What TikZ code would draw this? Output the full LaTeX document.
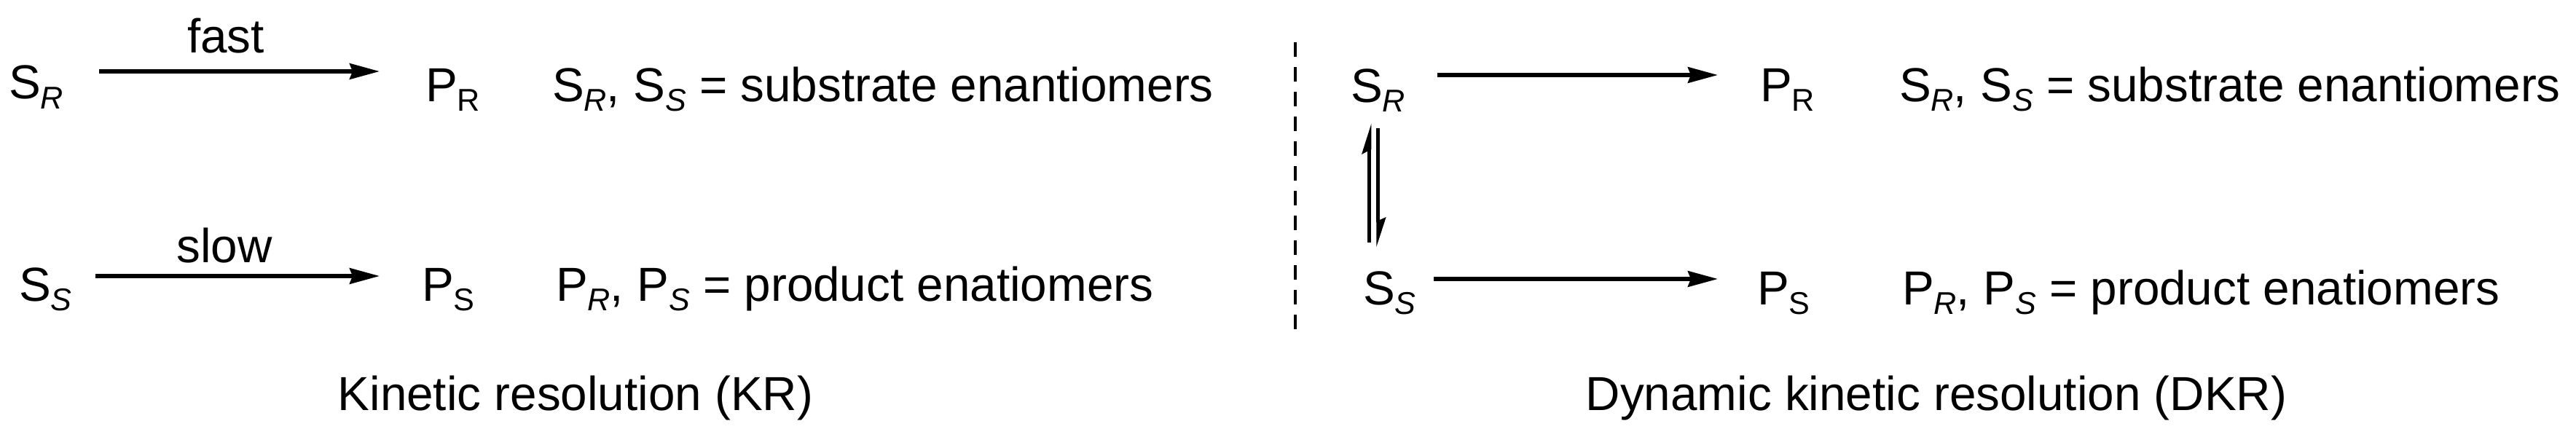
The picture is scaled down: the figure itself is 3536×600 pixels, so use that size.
\documentclass[tikz,border=0pt]{standalone}
\usepackage{fontspec}
\setmainfont{Liberation Sans}
\usetikzlibrary{arrows.meta}
\newcommand{\chemsub}[1]{\raisebox{-3.25pt}{\fontsize{10.8pt}{12pt}\selectfont #1}}
\tikzset{
  lbl/.style={inner sep=0pt, outer sep=0pt, anchor=base west, font=\fontsize{16.4pt}{19pt}\selectfont},
  captxt/.style={inner sep=0pt, outer sep=0pt, anchor=base, font=\fontsize{16.4pt}{19pt}\selectfont},
  rxn/.style={line width=1.35pt, -{Stealth[length=10.25pt, width=5.4pt, inset=1pt]}},
  harp/.style={line width=1.25pt},
  sep/.style={line width=1.2pt, dash pattern=on 5pt off 3.5pt}
}
\begin{document}
\begin{tikzpicture}[x=0.25pt, y=-0.25pt]
\useasboundingbox (0,0) rectangle (3536,600);
% ---------- Kinetic resolution ----------
\node[lbl] (SR1) at (12,136) {S\chemsub{\textit{R}}};
\node[lbl] (PR1) at (584,139) {P\chemsub{R}};
\node[lbl] (L1)  at (758,139) {S\chemsub{\textit{R}}, S\chemsub{\textit{S}} = substrate enantiomers};
\node[lbl] (SS1) at (26,413) {S\chemsub{\textit{S}}};
\node[lbl] (PS1) at (579,413) {P\chemsub{S}};
\node[lbl] (L2)  at (763,413) {P\chemsub{\textit{R}}, P\chemsub{\textit{S}} = product enatiomers};
\node[captxt] (fast) at (310,72) {fast};
\node[captxt] (slow) at (308,360) {slow};
\coordinate (k1a) at (136,98);  \coordinate (k1b) at (521,98);
\coordinate (k2a) at (131,379); \coordinate (k2b) at (521,379);
\draw[rxn] (k1a) -- (k1b);
\draw[rxn] (k2a) -- (k2b);
\node[captxt] (capKR) at (790,563) {Kinetic resolution (KR)};
% ---------- separator ----------
\coordinate (dtop) at (1778,58); \coordinate (dbot) at (1778,453);
\draw[sep] (dtop) -- (dbot);
% ---------- Dynamic kinetic resolution ----------
\node[lbl] (SR2) at (1854,140) {S\chemsub{\textit{R}}};
\node[lbl] (PR2) at (2416,139) {P\chemsub{R}};
\node[lbl] (L3)  at (2607,139) {S\chemsub{\textit{R}}, S\chemsub{\textit{S}} = substrate enantiomers};
\node[lbl] (SS2) at (1871,418) {S\chemsub{\textit{S}}};
\node[lbl] (PS2) at (2412,418) {P\chemsub{S}};
\node[lbl] (L4)  at (2611,418) {P\chemsub{\textit{R}}, P\chemsub{\textit{S}} = product enatiomers};
\coordinate (d1a) at (1973,103); \coordinate (d1b) at (2358,103);
\coordinate (d2a) at (1968,383); \coordinate (d2b) at (2358,383);
\draw[rxn] (d1a) -- (d1b);
\draw[rxn] (d2a) -- (d2b);
% equilibrium harpoons
\coordinate (hua) at (1879.8,333); \coordinate (hub) at (1879.8,205);
\draw[harp] (hua) -- (hub);
\fill (1882.3,170) -- (1869,212) -- (1882.3,205) -- cycle;
\coordinate (hda) at (1891.8,176); \coordinate (hdb) at (1891.8,305);
\draw[harp] (hda) -- (hdb);
\fill (1889.3,339) -- (1902.7,298) -- (1889.3,304) -- cycle;
\node[captxt] (capDKR) at (2658,563) {Dynamic kinetic resolution (DKR)};
\end{tikzpicture}
\end{document}
